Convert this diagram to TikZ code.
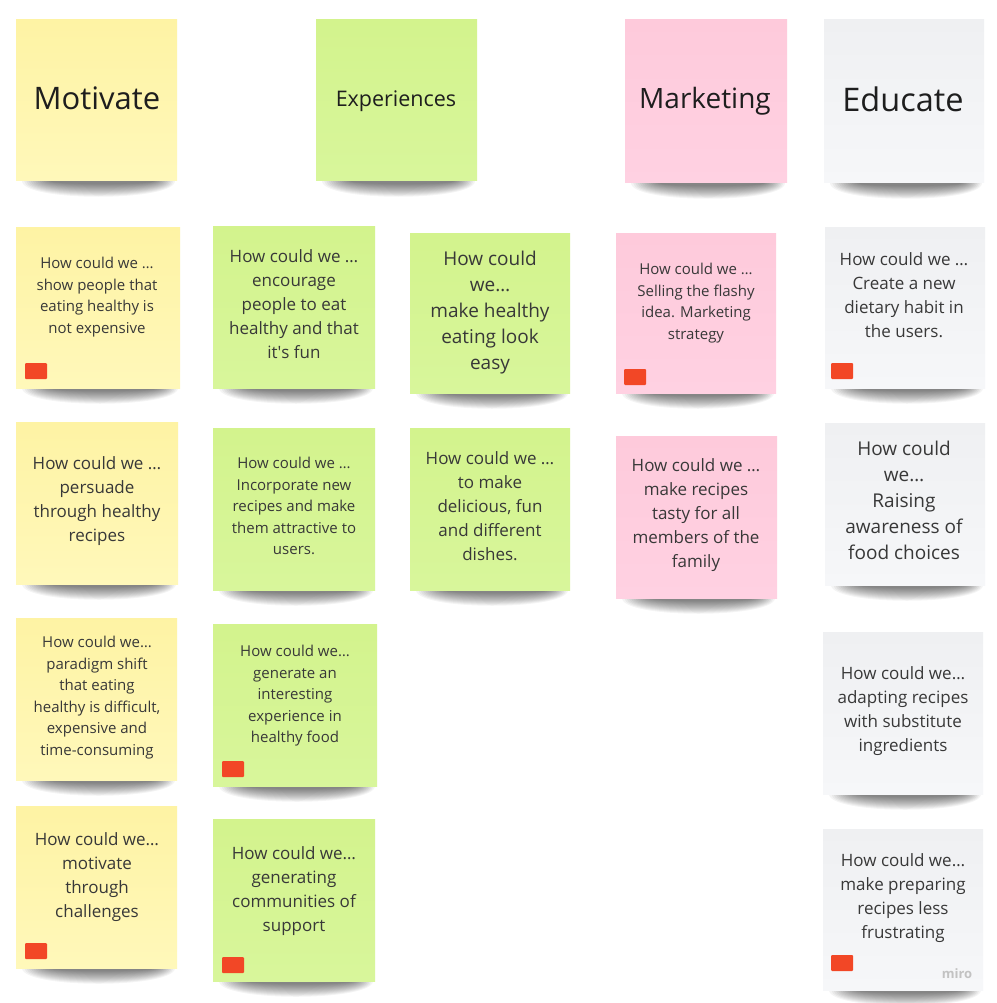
\documentclass[tikz,border=0pt]{standalone}
\usepackage{fontspec}
\setmainfont{Open Sans}
\definecolor{stickyyellowA}{HTML}{FEF3A4}
\definecolor{stickyyellowB}{HTML}{FFF8BA}
\definecolor{stickygreenA}{HTML}{D3F38D}
\definecolor{stickygreenB}{HTML}{D8F69B}
\definecolor{stickypinkA}{HTML}{FECADB}
\definecolor{stickypinkB}{HTML}{FFD1E2}
\definecolor{stickygrayA}{HTML}{EFF0F2}
\definecolor{stickygrayB}{HTML}{F6F7F9}
\definecolor{dotred}{HTML}{F24726}
\definecolor{inkgray}{HTML}{383838}
\definecolor{headink}{HTML}{1E1E1E}
\definecolor{logogray}{HTML}{C2C2C2}
\tikzset{
  paper/.style={inner sep=0, draw=none},
  yellownote/.style={paper, top color=stickyyellowA, bottom color=stickyyellowB},
  greennote/.style={paper, top color=stickygreenA, bottom color=stickygreenB},
  pinknote/.style={paper, top color=stickypinkA, bottom color=stickypinkB},
  graynote/.style={paper, top color=stickygrayA, bottom color=stickygrayB},
  tag/.style={fill=dotred, minimum width=22pt, minimum height=16pt, inner sep=0, rounded corners=1pt},
  notetext/.style={anchor=north, align=center, inner sep=0, text=inkgray},
  sz15/.style={notetext, font=\fontsize{15}{21.5}\selectfont},
  sz17/.style={notetext, font=\fontsize{17}{24}\selectfont},
  sz19/.style={notetext, font=\fontsize{19}{26}\selectfont},
  heading/.style={anchor=base, inner sep=0, text=headink},
}
% a sticky note: name, left, top, right, bottom, colour style
% the soft shadow is built from stacked translucent lens shapes
\newcommand\sticky[6]{%
  \foreach \k in {0,...,13}{
    \pgfmathsetmacro\xl{#2+6+2.2*\k}
    \pgfmathsetmacro\xr{#4-2-1.6*\k}
    \pgfmathsetmacro\dp{#5+21-1.3*\k}
    \fill[black, opacity=0.042]
      (\xl,{#5-6}) -- (\xr,{#5-6}) -- (\xr,#5)
      .. controls (\xr,\dp) and (\xl,\dp) .. (\xl,#5) -- cycle;
  }
  \node[#6, minimum width={(#4-#2)*1pt}, minimum height={(#5-#3)*1pt}]
    (#1) at ({(#2+#4)/2},{(#3+#5)/2}) {};
}
\begin{document}
\begin{tikzpicture}[x=1pt, y=-1pt]
\useasboundingbox[fill=white] (0,0) rectangle (996,1003);

% column headers
\sticky{hMot}{16}{20}{177}{181}{yellownote}
\sticky{hExp}{316}{20}{477}{181}{greennote}
\sticky{hMkt}{625}{20}{787}{183}{pinknote}
\sticky{hEdu}{824}{20}{984}{183}{graynote}
\node[heading, font=\fontsize{31}{31}\selectfont] (tMot) at (97,110) {Motivate};
\node[heading, font=\fontsize{21.5}{21.5}\selectfont] (tExp) at (396,107) {Experiences};
\node[heading, font=\fontsize{28}{28}\selectfont] (tMkt) at (705,109) {Marketing};
\node[heading, font=\fontsize{32.5}{32.5}\selectfont] (tEdu) at (903,112) {Educate};

% Motivate column
\sticky{y1}{16}{227}{180}{388}{yellownote}
\sticky{y2}{16}{422}{178}{584}{yellownote}
\sticky{y3}{16}{618}{177}{780}{yellownote}
\sticky{y4}{16}{806}{177}{968}{yellownote}
\node[sz15] (ty1) at (97,257) {How could we …\\show people that\\eating healthy is\\not expensive};
\node[sz17] (ty2) at (97,456) {How could we …\\persuade\\through healthy\\recipes};
\node[sz15] (ty3) at (97,636) {How could we…\\paradigm shift\\that eating\\healthy is difficult,\\expensive and\\time-consuming};
\node[sz17] (ty4) at (97,832) {How could we…\\motivate\\through\\challenges};
\node[tag] (ky1) at (36,371) {};
\node[tag] (ky4) at (36,951) {};

% Experiences columns
\sticky{g1}{213}{226}{375}{388}{greennote}
\sticky{g2}{410}{233}{570}{393}{greennote}
\sticky{g3}{213}{428}{375}{590}{greennote}
\sticky{g4}{410}{428}{570}{590}{greennote}
\sticky{g5}{213}{624}{377}{786}{greennote}
\sticky{g6}{213}{819}{375}{981}{greennote}
\node[sz17] (tg1) at (294,249) {How could we …\\encourage\\people to eat\\healthy and that\\it\textquotesingle s fun};
\node[sz19] (tg2) at (490,251) {How could\\we…\\make healthy\\eating look\\easy};
\node[sz15] (tg3) at (294,457) {How could we …\\Incorporate new\\recipes and make\\them attractive to\\users.};
\node[sz17] (tg4) at (490,451) {How could we …\\to make\\delicious, fun\\and different\\dishes.};
\node[sz15] (tg5) at (295,645) {How could we…\\generate an\\interesting\\experience in\\healthy food};
\node[sz17] (tg6) at (294,846) {How could we…\\generating\\communities of\\support};
\node[tag] (kg5) at (233,769) {};
\node[tag] (kg6) at (233,965) {};

% Marketing column
\sticky{m1}{616}{233}{776}{393}{pinknote}
\sticky{m2}{616}{436}{777}{598}{pinknote}
\node[sz15] (tm1) at (696,263) {How could we …\\Selling the flashy\\idea. Marketing\\strategy};
\node[sz17] (tm2) at (696,458) {How could we …\\make recipes\\tasty for all\\members of the\\family};
\node[tag] (km1) at (635,377) {};

% Educate column
\sticky{e1}{825}{227}{985}{388}{graynote}
\sticky{e2}{825}{423}{985}{585}{graynote}
\sticky{e3}{823}{632}{983}{794}{graynote}
\sticky{e4}{823}{829}{983}{990}{graynote}
\node[sz17] (te1) at (904,252) {How could we …\\Create a new\\dietary habit in\\the users.};
\node[sz19] (te2) at (904,441) {How could\\we…\\Raising\\awareness of\\food choices};
\node[sz17] (te3) at (903,666) {How could we…\\adapting recipes\\with substitute\\ingredients};
\node[sz17] (te4) at (903,853) {How could we…\\make preparing\\recipes less\\frustrating};
\node[tag] (ke1) at (842,371) {};
\node[tag] (ke4) at (842,963) {};

% board watermark
\node[inner sep=0, text=logogray, font=\bfseries\fontsize{13}{13}\selectfont] (logo) at (957,974) {miro};
\end{tikzpicture}
\end{document}
